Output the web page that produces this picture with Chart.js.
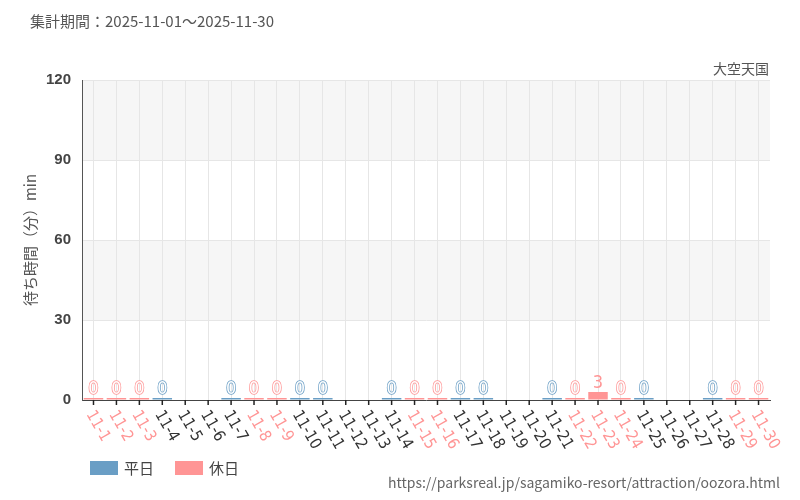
<!DOCTYPE html>
<html><head><meta charset="utf-8">
<script src="https://cdn.jsdelivr.net/npm/chart.js@4"></script>
<style>
body{margin:0;background:#fff;font-family:"Noto Sans CJK JP","Noto Sans",sans-serif}
#wrap{position:relative;width:800px;height:500px}
.t{position:absolute;color:#555;font-size:15px;white-space:nowrap}
.lg{position:absolute;top:457px;font-size:15px;color:#444;display:flex;align-items:center}
.lg i{display:inline-block;width:28px;height:14px;margin-right:6px}
</style></head><body>
<div id="wrap">
<canvas id="c" width="800" height="500"></canvas>
<div class="t" style="left:30px;top:10px">集計期間：2025-11-01～2025-11-30</div>
<div class="t" style="right:31px;top:58px;font-size:14px">大空天国</div>
<div class="lg" style="left:90px"><i style="background:#6a9ec5"></i>平日</div>
<div class="lg" style="left:175px"><i style="background:#ff9595"></i>休日</div>
<div class="t" style="right:20px;top:472px;font-size:14px;color:#666">https://parksreal.jp/sagamiko-resort/attraction/oozora.html</div>
</div>
<script>
const labels = Array.from({length:30},(_, i)=>'11-'+(i+1));
// 平日 / 休日 (null = closed / no data)
const weekday = [null,null,null,0,null,null,0,null,null,0,0,null,null,0,null,null,0,0,null,null,0,null,null,null,0,null,null,0,null,null];
const holiday = [0,0,0,null,null,null,null,0,0,null,null,null,null,null,0,0,null,null,null,null,null,0,3,0,null,null,null,null,0,0];
const holidayDays = [1,2,3,8,9,15,16,22,23,24,29,30];
const BLUE = '#6a9ec5', PINK = '#ff9595';

const bands = {
  id:'bands',
  beforeDraw(ch){
    const {ctx, chartArea:a, scales:{y}} = ch;
    ctx.save(); ctx.fillStyle='#f6f6f6';
    [[30,60],[90,120]].forEach(([l,h])=>{
      const top = y.getPixelForValue(h), bot = y.getPixelForValue(l);
      ctx.fillRect(a.left, top, a.right-a.left, bot-top);
    });
    ctx.restore();
  }
};
const xLabels = {
  id:'xLabels',
  afterDraw(ch){
    const {ctx, chartArea:a, scales:{x}} = ch;
    ctx.save();
    ctx.font = '16px "DejaVu Sans Condensed","Noto Sans",sans-serif';
    ctx.textAlign='left'; ctx.textBaseline='middle';
    labels.forEach((lab, i)=>{
      const px = x.getPixelForValue(i);
      ctx.strokeStyle='#222'; ctx.lineWidth=1.5;
      ctx.beginPath(); ctx.moveTo(px, a.bottom); ctx.lineTo(px, a.bottom+5); ctx.stroke();
      ctx.save();
      ctx.translate(px-4, a.bottom+12);
      ctx.rotate(Math.PI/3);
      ctx.fillStyle = holidayDays.includes(i+1) ? PINK : '#333';
      ctx.fillText(lab, 0, 0);
      ctx.restore();
    });
    ctx.restore();
  }
};
const valueLabels = {
  id:'valueLabels',
  afterDatasetsDraw(ch){
    const ctx = ch.ctx;
    ctx.save();
    ctx.font = '18px "DejaVu Sans Condensed","Noto Sans",sans-serif';
    ctx.textAlign='center'; ctx.textBaseline='bottom';
    ch.data.datasets.forEach((ds, di)=>{
      ch.getDatasetMeta(di).data.forEach((bar, i)=>{
        const v = ds.data[i];
        if (v === null) return;
        const yy = bar.y;
        if (v === 0) {
          ctx.lineWidth = 1.5; ctx.strokeStyle = ds.backgroundColor;
          ctx.strokeText(String(v), bar.x, yy);
          ctx.fillStyle='#fff'; ctx.fillText(String(v), bar.x, yy);
        } else {
          ctx.fillStyle = ds.backgroundColor; ctx.fillText(String(v), bar.x, yy);
        }
      });
    });
    ctx.restore();
  }
};

new Chart(document.getElementById('c'), {
  type:'bar',
  data:{labels, datasets:[
    {label:'平日', data:weekday, backgroundColor:BLUE, minBarLength:2, barPercentage:0.85, categoryPercentage:1},
    {label:'休日', data:holiday, backgroundColor:PINK, minBarLength:2, barPercentage:0.85, categoryPercentage:1}
  ]},
  options:{
    responsive:false, animation:false,
    layout:{padding:{top:80,right:30,left:17,bottom:100}},
    plugins:{ tooltip:{enabled:false}, legend:{display:false} },
    scales:{
      x:{stacked:true, grid:{color:'#e6e6e6', offset:false, drawTicks:false},
         border:{color:'#444'}, ticks:{display:false}},
      y:{min:0,max:120, ticks:{stepSize:30,color:'#444',font:{size:15,weight:'bold'}}, grid:{color:'#e6e6e6', tickColor:'#fff'},
         border:{color:'#555'},
         title:{display:true,text:'待ち時間（分）min',color:'#555',font:{size:15,family:'"Noto Sans CJK JP"'}}}
    }
  },
  plugins:[bands, valueLabels, xLabels]
});
</script></body></html>
